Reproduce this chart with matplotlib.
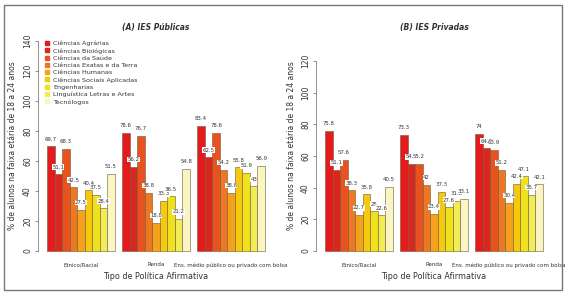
import numpy as np
import matplotlib
matplotlib.use("Agg")
import matplotlib.pyplot as plt
from matplotlib.lines import Line2D
from matplotlib.patches import Rectangle

# ── Data ──────────────────────────────────────────────────────────────────────
areas = [
    "Ciências Agrárias", "Ciências Biológicas", "Ciências da Saúde",
    "Ciências Exatas e da Terra", "Ciências Humanas", "Ciências Sociais Aplicadas",
    "Engenharias", "Linguística Letras e Artes", "Tecnólogos",
]
groups = ["Etnico/Racial", "Renda", "Ens. médio público ou privado com bolsa"]

publicas_etnico = [69.7, 51.1, 68.3, 42.5, 27.5, 40.4, 37.5, 28.4, 51.5]
publicas_renda = [78.6, 56.2, 76.7, 38.8, 18.8, 33.3, 36.5, 21.2, 54.8]
publicas_ensino = [83.4, 62.5, 78.6, 54.2, 38.8, 55.8, 51.9, 43, 56.9]

privadas_etnico = [75.8, 51.1, 57.6, 38.3, 22.7, 35.8, 25, 22.6, 40.5]
privadas_renda = [73.3, 54.9, 55.2, 42, 23.4, 37.3, 27.6, 31.8, 33.1]
privadas_ensino = [74, 64.8, 63.9, 51.2, 30.4, 42.4, 47.1, 35.7, 42.1]

# ── Style ─────────────────────────────────────────────────────────────────────
COLORS = ["#E41A1C", "#D9261F", "#E8521F", "#EE7822", "#F5A11B",
          "#F7C90E", "#EFE21D", "#F2EC55", "#FAF5C3"]
TEXT = "#333333"
EDGE = "#6b5a3a"

fig = plt.figure(figsize=(5.67, 2.95), dpi=100, facecolor="white")


def draw_panel(rect, data, title, ymax_tick, ylim):
    ax = fig.add_axes(rect)
    n = len(areas)
    for g, vals in enumerate(data):
        xs = 1 + g * (n + 1) + np.arange(n) + 0.5
        ax.bar(xs, vals, width=1.0, color=COLORS, edgecolor=EDGE,
               linewidth=0.4, zorder=2)
        for x, v in zip(xs, vals):
            ax.annotate(f"{v:g}", (x, v), xytext=(0, 5.2), textcoords="offset points",
                        ha="center", va="center", fontsize=3.9, color=TEXT, zorder=4,
                        bbox=dict(boxstyle="square,pad=0.05", fc="white", ec="none"))
    ax.set_xlim(-0.16, 31.16)
    ax.set_ylim(*ylim)
    centers = [1 + g * (n + 1) + n / 2 for g in range(len(groups))]
    ax.set_xticks(centers)
    ax.set_xticklabels(groups, fontsize=4, color=TEXT)
    ax.tick_params(axis="x", length=0, pad=2)
    yt = np.arange(0, ymax_tick + 1, 20)
    ax.set_yticks(yt)
    ax.set_yticklabels([str(int(t)) for t in yt], rotation=90, va="center",
                       fontsize=5.5, color=TEXT)
    ax.tick_params(axis="y", length=2.5, width=0.5, color="#666666", pad=2)
    for s in ("top", "right", "bottom"):
        ax.spines[s].set_visible(False)
    ax.spines["left"].set_bounds(0, ymax_tick)
    ax.spines["left"].set_linewidth(0.5)
    ax.spines["left"].set_color("#666666")
    ax.set_title(title, fontsize=5.5, fontweight="bold", style="italic",
                 color=TEXT, pad=2)
    ax.set_xlabel("Tipo de Política Afirmativa", fontsize=5.8, color=TEXT, labelpad=3)
    ax.set_ylabel("% de alunos na faixa etária de 18 a 24 anos", fontsize=5.5,
                  color=TEXT, labelpad=4)
    return ax


ax_a = draw_panel([0.0675, 0.1207, 0.4152, 0.7688],
                  [publicas_etnico, publicas_renda, publicas_ensino],
                  "(A) IES Públicas", 140, (-5.6, 145.6))
ax_b = draw_panel([0.5579, 0.1207, 0.4151, 0.7688],
                  [privadas_etnico, privadas_renda, privadas_ensino],
                  "(B) IES Privadas", 120, (-5.3, 138))

handles = [Line2D([], [], marker="s", linestyle="none", markersize=2.6,
                  color=c) for c in COLORS]
ax_a.legend(handles, areas, loc="upper left", bbox_to_anchor=(0.02, 0.975),
            frameon=False, fontsize=4.6, labelspacing=0.28, handlelength=0.6,
            handletextpad=0.6, borderaxespad=0, labelcolor=TEXT)

# outer frame
fig.patches.append(Rectangle((4 / 567, 5 / 295), 558 / 567, 285 / 295,
                             transform=fig.transFigure, fill=False,
                             edgecolor="#777777", linewidth=1.0))

fig.savefig("out.png", dpi=100, facecolor="white")
